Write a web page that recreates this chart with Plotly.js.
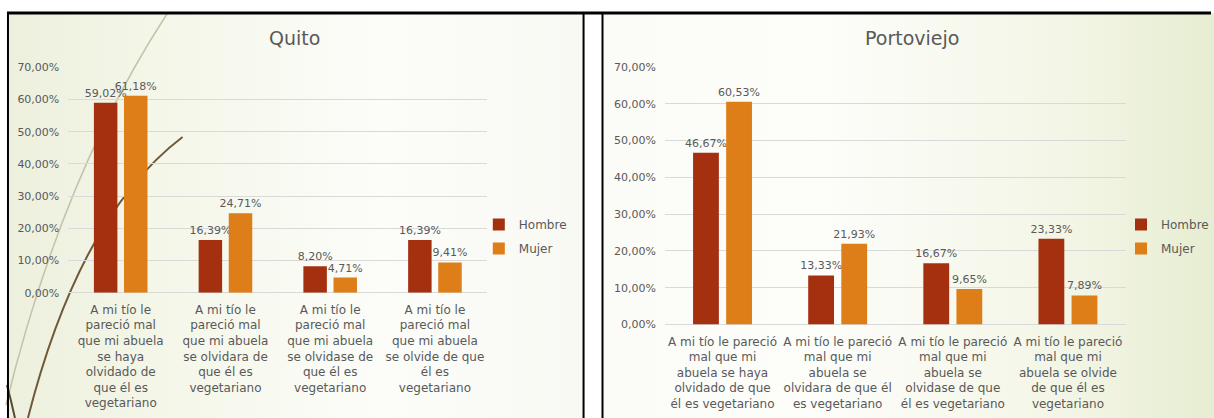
<!DOCTYPE html>
<html><head><meta charset="utf-8">
<script src="https://cdn.plot.ly/plotly-3.0.1.min.js"></script>
<style>
html,body{margin:0;padding:0;background:#fff;}
#wrap{position:relative;width:1214px;height:418px;overflow:hidden;background:#fff;}
#bgL{position:absolute;left:7px;top:13px;width:578px;height:405px;background:linear-gradient(90deg,#edf0dd 0%,#f5f7ea 30%,#fcfdf9 65%,#f8f9f3 100%);}
#bgR{position:absolute;left:603px;top:13px;width:611px;height:405px;background:linear-gradient(90deg,#fbfcf8 0%,#fdfdfa 35%,#f3f6e6 75%,#e7edd2 100%);}
#chart{position:absolute;left:0;top:0;width:1214px;height:418px;}
</style></head><body>
<div id="wrap"><div id="bgL"></div><div id="bgR"></div><div id="chart"></div></div>
<script>
// ---- data ----
const categories = [
  "A mi tío le pareció mal que mi abuela se haya olvidado de que él es vegetariano",
  "A mi tío le pareció mal que mi abuela se olvidara de que él es vegetariano",
  "A mi tío le pareció mal que mi abuela se olvidase de que él es vegetariano",
  "A mi tío le pareció mal que mi abuela se olvide de que él es vegetariano"
];
const quitoTickText = [
  "A mi tío le<br>pareció mal<br>que mi abuela<br>se haya<br>olvidado de<br>que él es<br>vegetariano",
  "A mi tío le<br>pareció mal<br>que mi abuela<br>se olvidara de<br>que él es<br>vegetariano",
  "A mi tío le<br>pareció mal<br>que mi abuela<br>se olvidase de<br>que él es<br>vegetariano",
  "A mi tío le<br>pareció mal<br>que mi abuela<br>se olvide de que<br>él es<br>vegetariano"
];
const portoTickText = [
  "A mi tío le pareció<br>mal que mi<br>abuela se haya<br>olvidado de que<br>él es vegetariano",
  "A mi tío le pareció<br>mal que mi<br>abuela se<br>olvidara de que él<br>es vegetariano",
  "A mi tío le pareció<br>mal que mi<br>abuela se<br>olvidase de que<br>él es vegetariano",
  "A mi tío le pareció<br>mal que mi<br>abuela se olvide<br>de que él es<br>vegetariano"
];
const seriesNames = ["Hombre", "Mujer"];
const quitoHombre = [59.02, 16.39, 8.20, 16.39];
const quitoMujer  = [61.18, 24.71, 4.71, 9.41];
const portoHombre = [46.67, 13.33, 16.67, 23.33];
const portoMujer  = [60.53, 21.93, 9.65, 7.89];
const panelTitles = ["Quito", "Portoviejo"];
const yTickVals = [0, 10, 20, 30, 40, 50, 60, 70];

// ---- styling ----
const W = 1214, H = 418;
const colors = ["#A53010", "#DE7E18"];
const txt = "#595959";
const FONT = "DejaVu Sans";
const fx = x => x / W;
const fy = y => 1 - y / H;
const fmt = v => v.toFixed(2).replace(".", ",") + "%";

function bar(y, i, xa, ya, lg) {
  return {
    type: "bar", x: categories, y: y, name: seriesNames[i],
    marker: {color: colors[i]},
    text: y.map(fmt), textposition: "outside", constraintext: "none", cliponaxis: false,
    textfont: {family: FONT, size: 11, color: txt},
    xaxis: xa, yaxis: ya, legend: lg, legendgroup: lg + i,
    hovertemplate: "%{y:.2f}%<extra>" + seriesNames[i] + "</extra>"
  };
}
const data = [
  bar(quitoHombre, 0, "x", "y", "legend"),
  bar(quitoMujer, 1, "x", "y", "legend"),
  bar(portoHombre, 0, "x2", "y2", "legend2"),
  bar(portoMujer, 1, "x2", "y2", "legend2")
];

function xax(dom, anchor, ticktext) {
  return {domain: dom, anchor: anchor, type: "category", tickvals: categories, ticktext: ticktext,
    tickangle: 0, showgrid: false, showline: false, zeroline: false, ticks: "",
    tickfont: {family: FONT, size: 12, color: txt}, ticklabelstandoff: 8, automargin: false, fixedrange: true};
}
function yax(dom, anchor) {
  return {domain: dom, anchor: anchor, range: [0, 70], tickmode: "array", tickvals: yTickVals,
    ticktext: yTickVals.map(fmt),
    showgrid: true, gridcolor: "#d9d9d9", gridwidth: 1, zeroline: true, zerolinecolor: "#d9d9d9", zerolinewidth: 1,
    showline: false, ticks: "", tickfont: {family: FONT, size: 11, color: txt}, ticklabelstandoff: 8,
    automargin: false, fixedrange: true};
}
function leg(xpix, ypix) {
  return {x: fx(xpix), y: fy(ypix), xanchor: "left", yanchor: "top", xref: "paper", yref: "paper",
    bgcolor: "rgba(0,0,0,0)", borderwidth: 0, font: {family: FONT, size: 12, color: txt},
    traceorder: "grouped", tracegroupgap: 5, itemclick: false, itemdoubleclick: false};
}
function line(x0, y0, x1, y1, w, c) {
  return {type: "line", xref: "paper", yref: "paper", x0: fx(x0), y0: fy(y0), x1: fx(x1), y1: fy(y1),
    line: {color: c || "#000", width: w}, layer: "above"};
}
function curve(pts, w, c) {
  // pts: [x0,y0, cx,cy, x1,y1] in pixels
  const p = pts.map((v, i) => i % 2 === 0 ? fx(v) : fy(v));
  return {type: "path", xref: "paper", yref: "paper", layer: "below",
    path: `M${p[0]},${p[1]} Q${p[2]},${p[3]} ${p[4]},${p[5]}`, line: {color: c, width: w}};
}

const layout = {
  width: W, height: H, margin: {l: 0, r: 0, t: 0, b: 0},
  paper_bgcolor: "rgba(0,0,0,0)", plot_bgcolor: "rgba(0,0,0,0)",
  font: {family: FONT, color: txt, size: 12},
  separators: ",.",
  barmode: "group", bargap: 0.425, bargroupgap: 0.22,
  xaxis: xax([fx(68.5), fx(488.5)], "y", quitoTickText),
  yaxis: yax([fy(292.7), fy(67.3)], "x"),
  xaxis2: xax([fx(666.6), fx(1128.3)], "y2", portoTickText),
  yaxis2: yax([fy(324.5), fy(67)], "x2"),
  legend: leg(480, 210),
  legend2: leg(1124, 210),
  showlegend: true,
  annotations: [
    {text: panelTitles[0], x: fx(295), y: fy(38), xref: "paper", yref: "paper", xanchor: "center", yanchor: "middle",
     showarrow: false, font: {family: FONT, size: 19, color: txt}},
    {text: panelTitles[1], x: fx(914), y: fy(38), xref: "paper", yref: "paper", xanchor: "center", yanchor: "middle",
     showarrow: false, font: {family: FONT, size: 19, color: txt}}
  ],
  shapes: [
    curve([168, 13, 62, 175, 6, 405], 1.5, "#c4c2a8"),
    curve([183, 137, 80, 215, 28, 418], 2, "#6e5a3a"),
    curve([7, 385, 11, 400, 15, 418], 2, "#5a4a30"),
    line(7, 13, 1214, 13, 3),
    line(8, 13, 8, 420, 2),
    line(585, 13, 585, 420, 2),
    line(604, 13, 604, 420, 2)
  ]
};
Plotly.newPlot("chart", data, layout, {displayModeBar: false, responsive: false});
</script>
</body></html>
